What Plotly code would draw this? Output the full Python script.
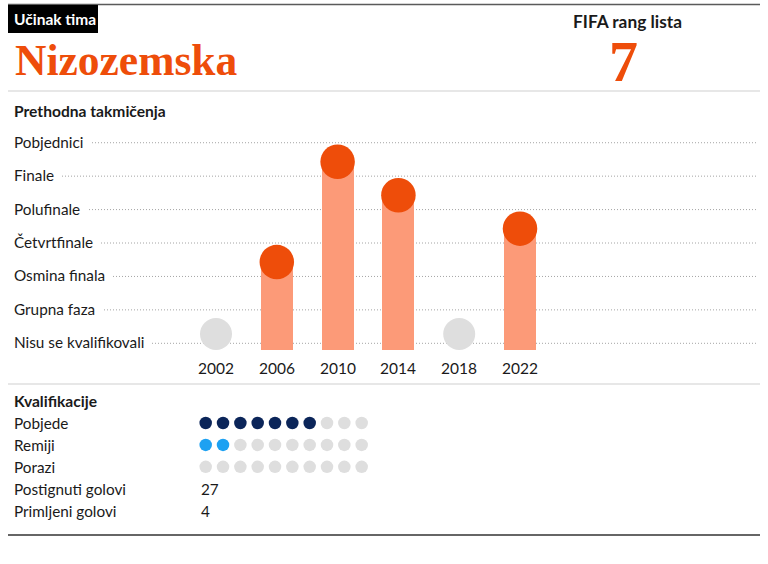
import plotly.graph_objects as go

W, H = 768, 564

# ---------------- data ----------------
team = "Nizozemska"
header_tag = "Učinak tima"
fifa_label = "FIFA rang lista"
fifa_rank = 7

years = ["2002", "2006", "2010", "2014", "2018", "2022"]
stages = ["Nisu se kvalifikovali", "Grupna faza", "Osmina finala", "Četvrtfinale",
          "Polufinale", "Finale", "Pobjednici"]
results = ["Nisu se kvalifikovali", "Osmina finala", "Finale", "Polufinale",
           "Nisu se kvalifikovali", "Četvrtfinale"]

qual_rows = ["Pobjede", "Remiji", "Porazi"]
qual_counts = [7, 2, 0]
qual_total = 10
goal_rows = ["Postignuti golovi", "Primljeni golovi"]
goal_values = [27, 4]

# ---------------- style ----------------
FONT = "Lato"
TXT = "#1a1a1a"
ORANGE = "#EE4D0A"
BAR = "#FC9A78"
GREY_DOT = "#DEDEDE"
NAVY = "#0B2559"
LIGHTBLUE = "#1DA1F2"
FS = 15.3
FSB = 15.6

def px(x):
    return x / W

def py(y):
    return 1 - y / H

# main chart pixel mapping
X0, DX = 216, 60.8
G0, DY = 343.3, 33.43
# qualification grid pixel mapping
QX0, QDX = 205.7, 17.33
QY0, QDY = 423, 21.9

stage_level = {s: i for i, s in enumerate(stages)}
levels = [stage_level[r] for r in results]
idx = list(range(len(years)))
qualified = [i for i in idx if levels[i] > 0]
not_qual = [i for i in idx if levels[i] == 0]
TOP_OFF = 0.43
GREY_OFF = 0.28
BASE = -0.2

fig = go.Figure()

# bars
fig.add_trace(go.Bar(
    x=qualified, y=[levels[i] + TOP_OFF - BASE for i in qualified], base=BASE,
    width=32 / DX, marker=dict(color=BAR, line=dict(width=0)),
    hoverinfo="skip", showlegend=False, xaxis="x", yaxis="y"))
# orange circles
fig.add_trace(go.Scatter(
    x=qualified, y=[levels[i] + TOP_OFF for i in qualified], mode="markers",
    marker=dict(size=34.5, color=ORANGE, line=dict(width=0)),
    hoverinfo="skip", showlegend=False, xaxis="x", yaxis="y"))
# grey circles
fig.add_trace(go.Scatter(
    x=not_qual, y=[levels[i] + GREY_OFF for i in not_qual], mode="markers",
    marker=dict(size=32, color=GREY_DOT, line=dict(width=0)),
    hoverinfo="skip", showlegend=False, xaxis="x", yaxis="y"))

# qualification dots
row_colors = [NAVY, LIGHTBLUE, NAVY]
for r, (name, cnt) in enumerate(zip(qual_rows, qual_counts)):
    fig.add_trace(go.Scatter(
        x=list(range(qual_total)), y=[r] * qual_total, mode="markers",
        marker=dict(size=12.5, color=[row_colors[r] if i < cnt else GREY_DOT
                                      for i in range(qual_total)], line=dict(width=0)),
        hoverinfo="skip", showlegend=False, xaxis="x2", yaxis="y2"))

shapes = []
annotations = []

# grid lines
for lv, s in enumerate(stages):
    shapes.append(dict(type="line", xref="paper", yref="y", x0=px(14), x1=px(758),
                       y0=lv, y1=lv, line=dict(color="#a4a4a4", width=1, dash="1px,2px"),
                       layer="below"))
    annotations.append(dict(text=s, xref="paper", yref="y", x=px(13 - 7), y=lv,
                            xanchor="left", yanchor="middle", showarrow=False,
                            bgcolor="white", borderpad=7, yshift=1,
                            font=dict(family=FONT, size=FS, color=TXT)))

# year labels
for i, yv in enumerate(years):
    annotations.append(dict(text=yv, xref="x", yref="paper", x=i, y=py(368),
                            xanchor="center", yanchor="middle", showarrow=False,
                            font=dict(family=FONT, size=15.5, color=TXT)))

# header
shapes.append(dict(type="line", xref="paper", yref="paper", x0=px(8), x1=px(760),
                   y0=py(4.5), y1=py(4.5), line=dict(color="#5a5a5a", width=1.5)))
shapes.append(dict(type="rect", xref="paper", yref="paper", x0=px(8), x1=px(98),
                   y0=py(33), y1=py(5), fillcolor="black", line=dict(width=0)))
annotations.append(dict(text="<b>" + header_tag + "</b>", xref="paper", yref="paper",
                        x=px(12), y=py(19.5), xanchor="left", yanchor="middle",
                        showarrow=False, font=dict(family=FONT, size=15.5, color="white")))
annotations.append(dict(text="<b>" + team + "</b>", xref="paper", yref="paper",
                        x=px(13), y=py(60), xanchor="left", yanchor="middle",
                        showarrow=False, font=dict(family="Liberation Serif", size=43.5, color=ORANGE)))
annotations.append(dict(text="<b>" + fifa_label + "</b>", xref="paper", yref="paper",
                        x=px(627), y=py(21.5), xanchor="center", yanchor="middle",
                        showarrow=False, font=dict(family=FONT, size=17.3, color=TXT)))
annotations.append(dict(text="<b>" + str(fifa_rank) + "</b>", xref="paper", yref="paper",
                        x=px(623), y=py(62), xanchor="center", yanchor="middle",
                        showarrow=False, font=dict(family="Liberation Serif", size=58, color=ORANGE)))
shapes.append(dict(type="line", xref="paper", yref="paper", x0=px(8), x1=px(760),
                   y0=py(91), y1=py(91), line=dict(color="#cfcfcf", width=1)))

# section titles
annotations.append(dict(text="<b>Prethodna takmičenja</b>", xref="paper", yref="paper",
                        x=px(12), y=py(111), xanchor="left", yanchor="middle",
                        showarrow=False, font=dict(family=FONT, size=FSB, color=TXT)))
shapes.append(dict(type="line", xref="paper", yref="paper", x0=px(8), x1=px(760),
                   y0=py(384), y1=py(384), line=dict(color="#cfcfcf", width=1.2)))
annotations.append(dict(text="<b>Kvalifikacije</b>", xref="paper", yref="paper",
                        x=px(12), y=py(401), xanchor="left", yanchor="middle",
                        showarrow=False, font=dict(family=FONT, size=FSB, color=TXT)))

# qualification rows
for r, name in enumerate(qual_rows + goal_rows):
    annotations.append(dict(text=name, xref="paper", yref="y2", x=px(12), y=r,
                            xanchor="left", yanchor="middle", showarrow=False,
                            font=dict(family=FONT, size=FS, color=TXT)))
for k, v in enumerate(goal_values):
    annotations.append(dict(text=str(v), xref="paper", yref="y2", x=px(199),
                            y=len(qual_rows) + k, xanchor="left", yanchor="middle",
                            showarrow=False, font=dict(family=FONT, size=FS, color=TXT)))

shapes.append(dict(type="line", xref="paper", yref="paper", x0=px(8), x1=px(760),
                   y0=py(535), y1=py(535), line=dict(color="#333333", width=1.5)))

ax_common = dict(visible=False, showgrid=False, zeroline=False, fixedrange=True)
fig.update_layout(
    width=W, height=H, margin=dict(l=0, r=0, t=0, b=0),
    paper_bgcolor="white", plot_bgcolor="rgba(0,0,0,0)",
    xaxis=dict(domain=[0, 1], range=[(0 - X0) / DX, (W - X0) / DX], **ax_common),
    yaxis=dict(domain=[0, 1], range=[(G0 - H) / DY, G0 / DY], **ax_common),
    xaxis2=dict(domain=[0, 1], range=[(0 - QX0) / QDX, (W - QX0) / QDX],
                anchor="y2", overlaying="x", **ax_common),
    yaxis2=dict(domain=[0, 1], range=[(H - QY0) / QDY, (0 - QY0) / QDY],
                anchor="x2", overlaying="y", **ax_common),
    shapes=shapes, annotations=annotations, showlegend=False,
    bargap=0,
)

fig.write_html("out.html")
